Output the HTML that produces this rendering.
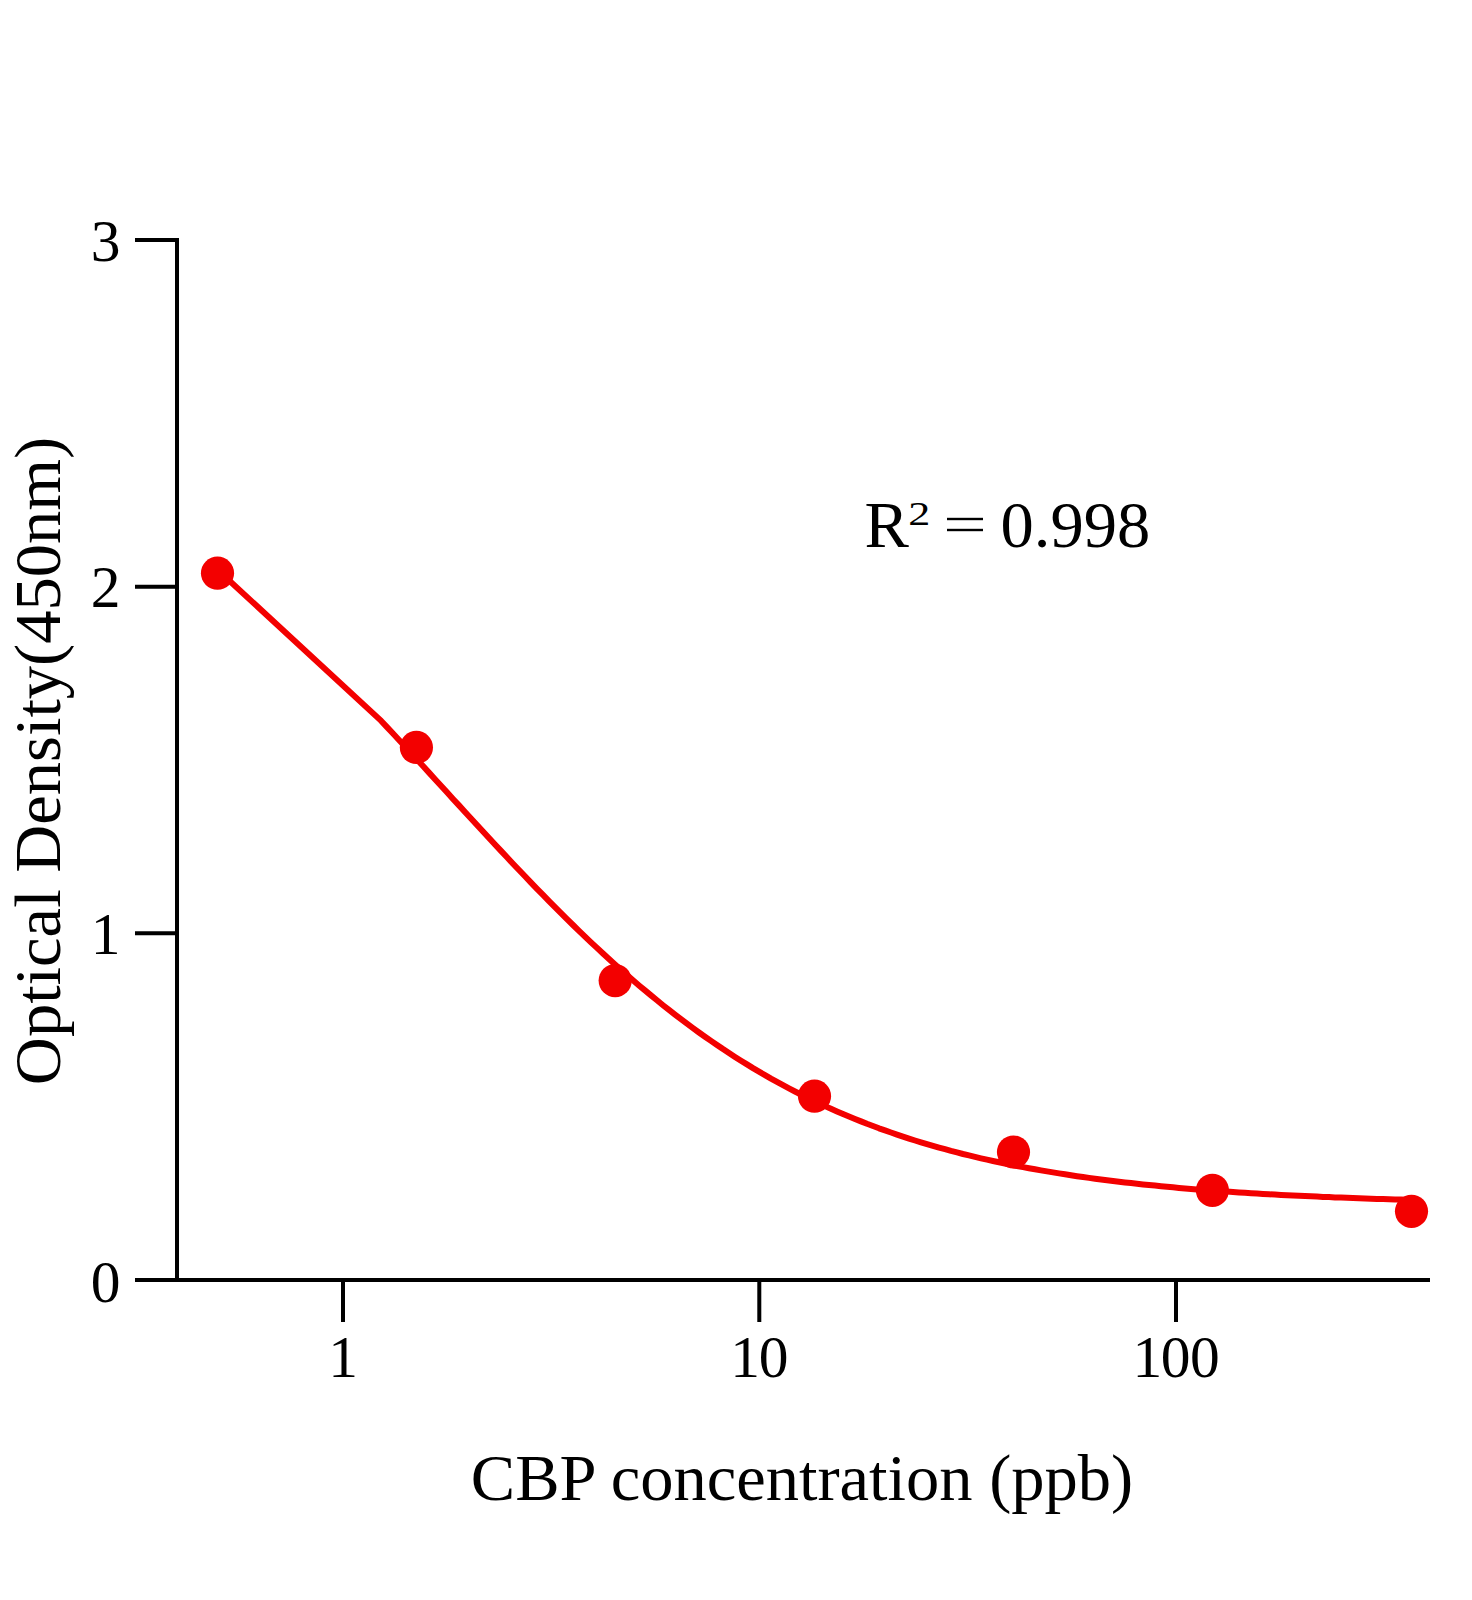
<!DOCTYPE html>
<html><head><meta charset="utf-8"><style>
html,body{margin:0;padding:0;background:#fff;}
svg{display:block;}
text{font-family:"Liberation Serif",serif;fill:#000;}
</style></head><body>
<svg width="1472" height="1600" viewBox="0 0 1472 1600">
<rect width="1472" height="1600" fill="#fff"/>
<g stroke="#000" stroke-width="4" fill="none" stroke-linecap="butt">
<path d="M135,240 H179 M177,238 V1282 M135,586.67 H177 M135,933.33 H177 M135,1280 H1430 M343,1280 V1322 M759.3,1280 V1322 M1176,1280 V1322"/>
</g>
<path d="M217.5,569.7 L380.7,720.4 L381.0,720.7 L387.0,727.1 L393.0,733.5 L399.0,740.0 L405.0,746.5 L411.0,753.0 L417.0,759.5 L423.0,766.1 L429.0,772.6 L435.0,779.2 L441.0,785.7 L447.0,792.3 L453.0,798.9 L459.0,805.4 L465.0,812.0 L471.0,818.5 L477.0,825.0 L483.0,831.5 L489.0,838.0 L495.0,844.5 L501.0,850.9 L507.0,857.3 L513.0,863.7 L519.0,870.0 L525.0,876.3 L531.0,882.6 L537.0,888.8 L543.0,894.9 L549.0,901.1 L555.0,907.1 L561.0,913.1 L567.0,919.1 L573.0,925.0 L579.0,930.8 L585.0,936.6 L591.0,942.3 L597.0,947.9 L603.0,953.5 L609.0,959.0 L615.0,964.4 L621.0,969.7 L627.0,975.0 L633.0,980.2 L639.0,985.4 L645.0,990.4 L651.0,995.4 L657.0,1000.3 L663.0,1005.2 L669.0,1009.9 L675.0,1014.6 L681.0,1019.2 L687.0,1023.7 L693.0,1028.1 L699.0,1032.5 L705.0,1036.7 L711.0,1040.9 L717.0,1045.0 L723.0,1049.1 L729.0,1053.0 L735.0,1056.9 L741.0,1060.7 L747.0,1064.4 L753.0,1068.1 L759.0,1071.6 L765.0,1075.1 L771.0,1078.6 L777.0,1081.9 L783.0,1085.2 L789.0,1088.4 L795.0,1091.5 L801.0,1094.5 L807.0,1097.5 L813.0,1100.4 L819.0,1103.3 L825.0,1106.1 L831.0,1108.8 L837.0,1111.4 L843.0,1114.0 L849.0,1116.5 L855.0,1119.0 L861.0,1121.4 L867.0,1123.8 L873.0,1126.0 L879.0,1128.3 L885.0,1130.4 L891.0,1132.5 L897.0,1134.6 L903.0,1136.6 L909.0,1138.6 L915.0,1140.5 L921.0,1142.3 L927.0,1144.1 L933.0,1145.9 L939.0,1147.6 L945.0,1149.2 L951.0,1150.9 L957.0,1152.4 L963.0,1154.0 L969.0,1155.4 L975.0,1156.9 L981.0,1158.3 L987.0,1159.7 L993.0,1161.0 L999.0,1162.3 L1005.0,1163.6 L1011.0,1164.8 L1017.0,1166.0 L1023.0,1167.1 L1029.0,1168.2 L1035.0,1169.3 L1041.0,1170.4 L1047.0,1171.4 L1053.0,1172.4 L1059.0,1173.4 L1065.0,1174.3 L1071.0,1175.3 L1077.0,1176.2 L1083.0,1177.0 L1089.0,1177.9 L1095.0,1178.7 L1101.0,1179.5 L1107.0,1180.2 L1113.0,1181.0 L1119.0,1181.7 L1125.0,1182.4 L1131.0,1183.1 L1137.0,1183.7 L1143.0,1184.4 L1149.0,1185.0 L1155.0,1185.6 L1161.0,1186.2 L1167.0,1186.8 L1173.0,1187.3 L1179.0,1187.9 L1185.0,1188.4 L1191.0,1188.9 L1197.0,1189.4 L1203.0,1189.9 L1209.0,1190.3 L1215.0,1190.8 L1221.0,1191.2 L1227.0,1191.6 L1233.0,1192.0 L1239.0,1192.4 L1245.0,1192.8 L1251.0,1193.2 L1257.0,1193.5 L1263.0,1193.9 L1269.0,1194.2 L1275.0,1194.6 L1281.0,1194.9 L1287.0,1195.2 L1293.0,1195.5 L1299.0,1195.8 L1305.0,1196.1 L1311.0,1196.3 L1317.0,1196.6 L1323.0,1196.9 L1329.0,1197.1 L1335.0,1197.4 L1341.0,1197.6 L1347.0,1197.8 L1353.0,1198.0 L1359.0,1198.3 L1365.0,1198.5 L1371.0,1198.7 L1377.0,1198.9 L1383.0,1199.0 L1389.0,1199.2 L1395.0,1199.4 L1401.0,1199.6 L1407.0,1199.7 L1411.5,1199.9" fill="none" stroke="#F30000" stroke-width="6" stroke-linejoin="round"/>
<g fill="#F30000">
<circle cx="217.5" cy="573.2" r="16.6"/>
<circle cx="416.4" cy="747.4" r="16.6"/>
<circle cx="615.2" cy="980.6" r="16.6"/>
<circle cx="814.5" cy="1096.2" r="16.6"/>
<circle cx="1013.5" cy="1152" r="16.6"/>
<circle cx="1212.4" cy="1190.3" r="16.6"/>
<circle cx="1411.5" cy="1211.3" r="16.6"/>
</g>
<g font-size="59.5" text-anchor="middle">
<text x="105.5" y="260.5">3</text>
<text x="105.5" y="607">2</text>
<text x="105.5" y="954">1</text>
<text x="105.5" y="1301.5">0</text>
<text x="343" y="1377">1</text>


</g>
<g font-size="59.5"><text x="730.3 758.85" y="1377">10</text>
<text x="1132.5 1160.85 1190.05" y="1377">100</text></g>
<text x="802" y="1500" font-size="66.5" text-anchor="middle">CBP concentration (ppb)</text>
<text transform="translate(59.5,761) rotate(-90)" font-size="66.5" text-anchor="middle">Optical Density(450nm)</text>
<text x="864.4" y="547" font-size="66.5">R</text>
<text transform="translate(908.2,524.9) scale(1.27,1)" font-size="34.7">2</text>
<rect x="947" y="517.8" width="36" height="2.4" fill="#000"/>
<rect x="947" y="528.8" width="36" height="2.4" fill="#000"/>
<text x="1000.6" y="547" font-size="66.5">0.998</text>
</svg>
</body></html>
